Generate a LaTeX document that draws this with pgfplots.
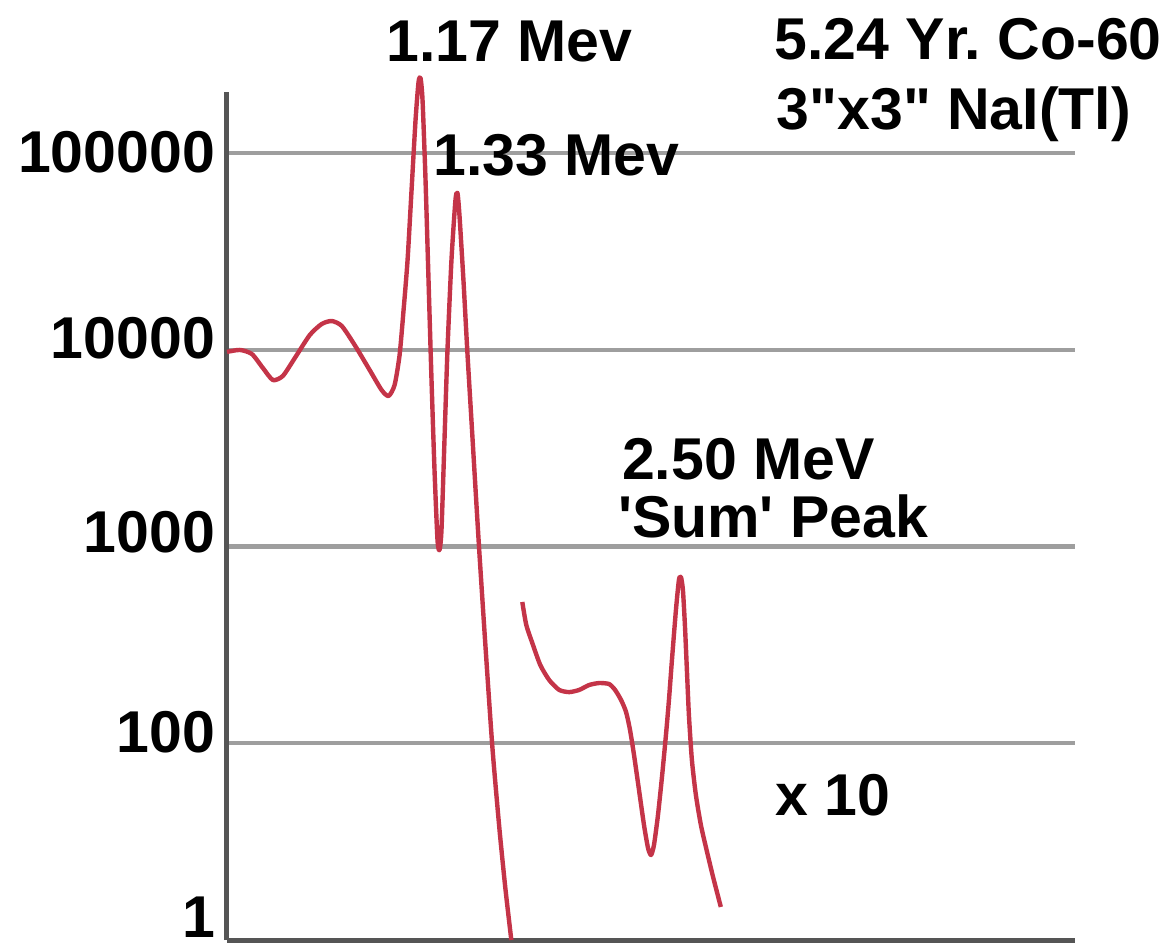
\documentclass[border=0pt]{standalone}
\usepackage{pgfplots}
\pgfplotsset{compat=1.18}
\usepackage{fontspec}
\setmainfont{Liberation Sans}[Ligatures=TeXOff]
\frenchspacing

\definecolor{spec}{RGB}{196,52,72}
\definecolor{gridc}{RGB}{158,158,158}
\definecolor{axisc}{RGB}{85,85,85}

\tikzset{lab/.style={font=\fontsize{29.5}{35}\selectfont\bfseries, inner sep=0pt, outer sep=0pt}}

% y is the decade index: 0 -> 1, 1 -> 100, 2 -> 1000, 3 -> 10000, 4 -> 100000
% x is the channel number
\pgfplotstableread{
x y
0 2.989
13 2.999
25 2.978
36 2.907
46 2.846
56 2.867
68 2.958
83 3.075
95 3.131
105 3.146
115 3.121
128 3.024
143 2.897
155 2.795
162 2.765
168 2.821
173 2.973
177 3.202
181 3.456
185 3.812
189 4.168
192 4.361
194 4.381
196 4.269
199 3.863
202 3.354
205 2.846
208 2.389
211 2.033
213 1.982
215 2.084
218 2.541
221 2.999
225 3.456
229 3.761
231 3.797
233 3.685
237 3.354
241 2.983
245 2.643
249 2.302
253 1.967
259 1.499
266 0.981
273 0.569
279 0.264
285 0.000
}\mainspectrum

% high-energy part, counts multiplied by 10
\pgfplotstableread{
x y
296 1.718
300 1.601
306 1.510
314 1.398
323 1.321
333 1.271
343 1.260
353 1.271
363 1.296
373 1.306
383 1.301
389 1.271
395 1.220
400 1.159
404 1.067
408 0.940
413 0.762
418 0.584
422 0.468
425 0.432
428 0.483
432 0.635
436 0.828
440 1.042
443 1.220
446 1.423
450 1.677
453 1.830
455 1.845
457 1.779
459 1.601
461 1.372
463 1.144
466 0.915
470 0.737
475 0.585
480 0.473
487 0.325
495 0.168
}\sumregion

\begin{document}
\begin{tikzpicture}
\useasboundingbox (-113.5pt,-4.5pt) rectangle (474.5pt,470pt);
\begin{axis}[
  at={(0pt,0pt)}, anchor=south west,
  scale only axis,
  width=424pt, height=424pt,
  xmin=0, xmax=850,
  ymin=0, ymax=4.31,
  axis x line=bottom, axis y line=left,
  axis line style={-, line width=2.5pt, color=axisc},
  xtick=\empty,
  ytick={1,2,3,4},
  yticklabels={},
  major tick length=0pt,
  ymajorgrids,
  grid style={line width=2.2pt, color=gridc},
  clip=false,
]
\addplot[spec, line width=2.2pt, smooth, tension=0.4, line join=round] table {\mainspectrum};
\addplot[spec, line width=2.2pt, smooth, tension=0.4, line join=round] table {\sumregion};

% decade labels
\node[lab, anchor=east] at (axis cs:-12,4.005) {100000};
\node[lab, anchor=east] at (axis cs:-12,3.060) {10000};
\node[lab, anchor=east] at (axis cs:-12,2.074) {1000};
\node[lab, anchor=east] at (axis cs:-12,1.057) {100};
\node[lab, anchor=east] at (axis cs:-12,0.115) {1};

% peak annotations
\node[lab, anchor=base west] at (axis cs:160,4.463) {1.17 Mev};
\node[lab, anchor=base west] at (axis cs:207,3.888) {1.33 Mev};
\node[lab, anchor=base west] at (axis cs:549,4.473) {5.24 Yr. Co-60};
\node[lab, anchor=base west] at (axis cs:551,4.117) {3"x3" NaI(Tl)};
\node[lab, anchor=base west] at (axis cs:396,2.338) {2.50 MeV};
\node[lab, anchor=base west] at (axis cs:392,2.048) {'Sum' Peak};
\node[lab, anchor=base west] at (axis cs:550,0.635) {x 10};
\end{axis}
\end{tikzpicture}
\end{document}
